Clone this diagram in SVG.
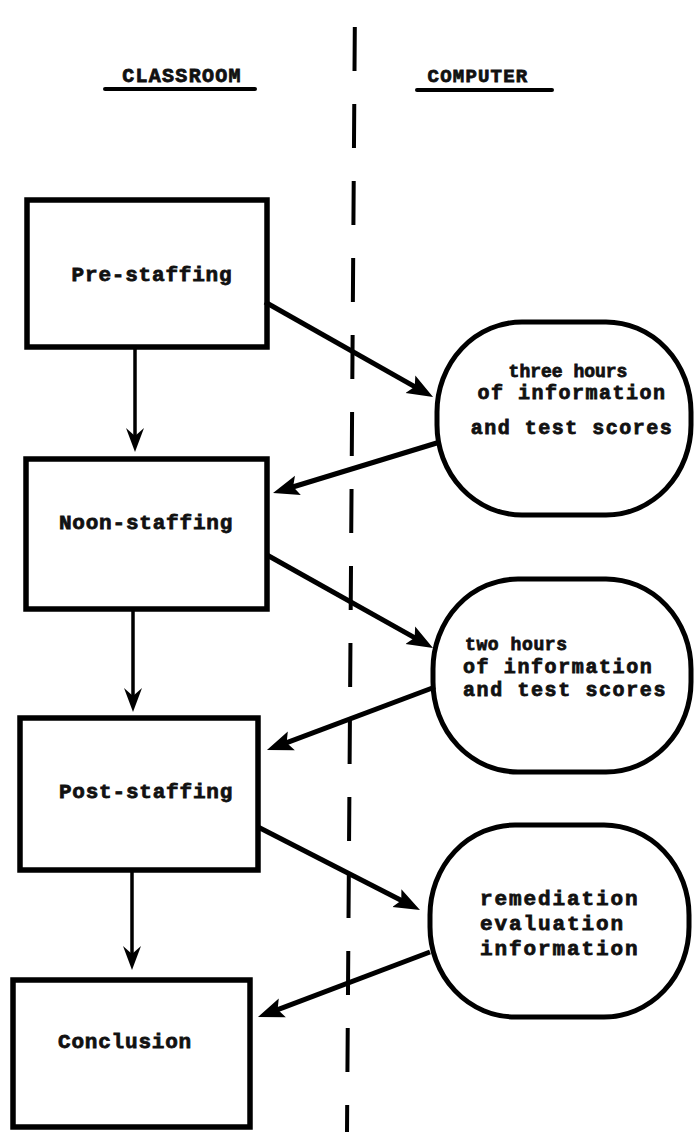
<svg xmlns="http://www.w3.org/2000/svg" width="694" height="1132" viewBox="0 0 694 1132">
<defs>
<style>
.box{fill:none;stroke:#000;stroke-width:5.5}
.blob{fill:none;stroke:#000;stroke-width:5}
.t{font-family:"Liberation Mono","Courier New",monospace;font-weight:bold;fill:#111;stroke:#111;stroke-width:0.8}
.thick{stroke:#000;stroke-width:5;fill:none}
.thin{stroke:#000;stroke-width:3.5;fill:none}
.ul{stroke:#000;stroke-width:4;stroke-linecap:round}
</style>
<marker id="hd" markerUnits="userSpaceOnUse" markerWidth="30" markerHeight="24" viewBox="0 -12 30 24" refX="14" refY="0" orient="auto">
<path d="M26,0 L0,-10 L5,0 L0,10 Z" fill="#000"/>
</marker>
<marker id="hv" markerUnits="userSpaceOnUse" markerWidth="30" markerHeight="24" viewBox="0 -12 30 24" refX="16" refY="0" orient="auto">
<path d="M26,0 L2,-9 L10,0 L2,9 Z" fill="#000"/>
</marker>
</defs>
<rect width="694" height="1132" fill="#fff"/>
<g id="divider">
<line x1="355" y1="0" x2="347" y2="1132" stroke="#000" stroke-width="4" stroke-dasharray="44 33" stroke-dashoffset="50"/>
</g>
<g id="header-classroom">
<text class="t" x="182" y="82" font-size="20" letter-spacing="1.3" text-anchor="middle">CLASSROOM</text>
<line class="ul" x1="105" y1="89" x2="255" y2="89"/>
</g>
<g id="header-computer">
<text class="t" x="478" y="82" font-size="19" letter-spacing="1.2" text-anchor="middle">COMPUTER</text>
<line class="ul" x1="417" y1="90" x2="552" y2="90"/>
</g>
<g id="pre-staffing">
<rect class="box" x="27" y="200" width="240" height="147"/>
<text class="t" x="152" y="281" font-size="21" letter-spacing="0.8" text-anchor="middle">Pre-staffing</text>
</g>
<g id="noon-staffing">
<rect class="box" x="26" y="459" width="241" height="150"/>
<text class="t" x="146" y="529" font-size="21" letter-spacing="0.8" text-anchor="middle">Noon-staffing</text>
</g>
<g id="post-staffing">
<rect class="box" x="20" y="718" width="238" height="152"/>
<text class="t" x="146" y="798" font-size="21" letter-spacing="0.8" text-anchor="middle">Post-staffing</text>
</g>
<g id="conclusion">
<rect class="box" x="13" y="980" width="237" height="147"/>
<text class="t" x="125" y="1048" font-size="21" letter-spacing="0.8" text-anchor="middle">Conclusion</text>
</g>
<g id="info-1">
<rect class="blob" x="437" y="322" width="254" height="193" rx="85" ry="90"/>
<text class="t" x="568" y="377" font-size="18" text-anchor="middle">three hours</text>
<text class="t" x="572" y="399" font-size="20" letter-spacing="1.5" text-anchor="middle">of information</text>
<text class="t" x="572" y="434" font-size="20" letter-spacing="1.5" text-anchor="middle">and test scores</text>
</g>
<g id="info-2">
<rect class="blob" x="433" y="579" width="258" height="193" rx="85" ry="90"/>
<text class="t" x="465" y="650" font-size="18" letter-spacing="0.6">two hours</text>
<text class="t" x="463" y="673" font-size="20" letter-spacing="1.6">of information</text>
<text class="t" x="463" y="696" font-size="20" letter-spacing="1.6">and test scores</text>
</g>
<g id="info-3">
<rect class="blob" x="430" y="825" width="259" height="192" rx="85" ry="90"/>
<text class="t" x="480" y="905" font-size="21" letter-spacing="1.9">remediation</text>
<text class="t" x="480" y="930" font-size="21" letter-spacing="1.9">evaluation</text>
<text class="t" x="480" y="955" font-size="21" letter-spacing="1.9">information</text>
</g>
<g id="connectors">
<line class="thin" x1="135" y1="347" x2="135" y2="442" marker-end="url(#hv)"/>
<line class="thin" x1="133" y1="609" x2="133" y2="702" marker-end="url(#hv)"/>
<line class="thin" x1="132" y1="870" x2="132" y2="960" marker-end="url(#hv)"/>
<line class="thick" x1="265" y1="302" x2="422.6" y2="391.1" marker-end="url(#hd)"/>
<line class="thick" x1="440" y1="442" x2="284.5" y2="489.5" marker-end="url(#hd)"/>
<line class="thick" x1="267" y1="555" x2="422.5" y2="642.1" marker-end="url(#hd)"/>
<line class="thick" x1="435" y1="687" x2="278.2" y2="745.8" marker-end="url(#hd)"/>
<line class="thick" x1="258" y1="827" x2="409.3" y2="904.5" marker-end="url(#hd)"/>
<line class="thick" x1="430" y1="952" x2="269.2" y2="1012.8" marker-end="url(#hd)"/>
</g>
</svg>
